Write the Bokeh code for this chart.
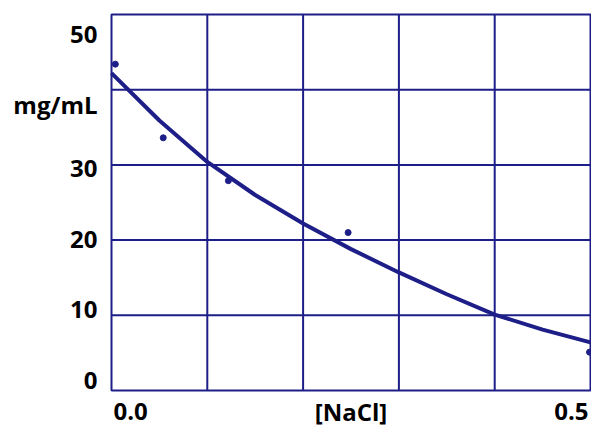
from bokeh.plotting import figure
from bokeh.models import Range1d
from bokeh.core.properties import value
from bokeh.embed import file_html
from bokeh.resources import INLINE

# measured points
nacl_pts = [0.004, 0.054, 0.122, 0.247, 0.499]
conc_pts = [43.4, 33.6, 27.9, 21.0, 5.1]

# fitted curve
nacl_fit = [0.0, 0.05, 0.10, 0.15, 0.20, 0.25, 0.30, 0.35, 0.40, 0.45, 0.50]
conc_fit = [42.2, 35.9, 30.4, 26.0, 22.2, 18.8, 15.7, 12.8, 10.1, 8.1, 6.4]

# axes / ticks
x_min, x_max = 0.0, 0.5
y_min, y_max = 0, 50
x_grid = [0.1, 0.2, 0.3, 0.4]
y_grid = [10, 20, 30, 40]
y_ticks = [50, 40, 30, 20, 10, 0]
y_labels = ["50", "mg/mL", "30", "20", "10", "0"]
x_ticks = [0.0, 0.25, 0.5]
x_labels = ["0.0", "[NaCl]", "0.5"]

# layout / style (pixels)
W, H = 591, 428
LEFT, RIGHT, TOP, BOTTOM = 111, 590, 14, 390
y_label_dy = [19.5, 15, 3.5, -1, -6, -10]
x_label_align = ["left", "center", "right"]
x_label_dx = [2, 0, -2]
NAVY = "#1e1e88"
FONT = "Open Sans"
FONT_SIZE = "24px"

# ranges so that the plot box sits at the pixel positions of the reference
xs = (RIGHT - LEFT) / (x_max - x_min)
ys = (BOTTOM - TOP) / (y_max - y_min)
xr = Range1d(x_min - LEFT / xs, x_max + (W - RIGHT) / xs)
yr = Range1d(y_min - (H - BOTTOM) / ys, y_max + TOP / ys)

p = figure(width=W, height=H, output_backend="svg", toolbar_location=None,
           x_range=xr, y_range=yr, x_axis_type=None, y_axis_type=None,
           min_border=0)
p.xgrid.visible = False
p.ygrid.visible = False
p.outline_line_color = None
p.background_fill_color = "white"
p.border_fill_color = "white"

# grid lines
p.segment(x0=x_grid, y0=[y_min] * len(x_grid), x1=x_grid, y1=[y_max] * len(x_grid),
          line_color=NAVY, line_width=2)
p.segment(x0=[x_min] * len(y_grid), y0=y_grid, x1=[x_max] * len(y_grid), y1=y_grid,
          line_color=NAVY, line_width=2)
# plot box
p.quad(left=[x_min], right=[x_max], bottom=[y_min], top=[y_max],
       fill_color=None, line_color=NAVY, line_width=2)

p.line(nacl_fit, conc_fit, line_color=NAVY, line_width=4, line_join="round")
p.scatter(nacl_pts, conc_pts, marker="circle", size=6, fill_color=NAVY, line_color=NAVY)

p.text(x=[x_min] * len(y_ticks), y=y_ticks, text=y_labels, x_offset=-14, y_offset=y_label_dy,
       text_align="right", text_baseline="middle", text_font=value(FONT),
       text_font_style="bold", text_font_size=FONT_SIZE, text_color="black")
for v, t, al, dx in zip(x_ticks, x_labels, x_label_align, x_label_dx):
    p.text(x=[v], y=[y_min], text=[t], x_offset=dx, y_offset=21,
           text_align=al, text_baseline="middle", text_font=value(FONT),
           text_font_style="bold", text_font_size=FONT_SIZE, text_color="black")

open("out.html", "w").write(file_html(p, INLINE))
